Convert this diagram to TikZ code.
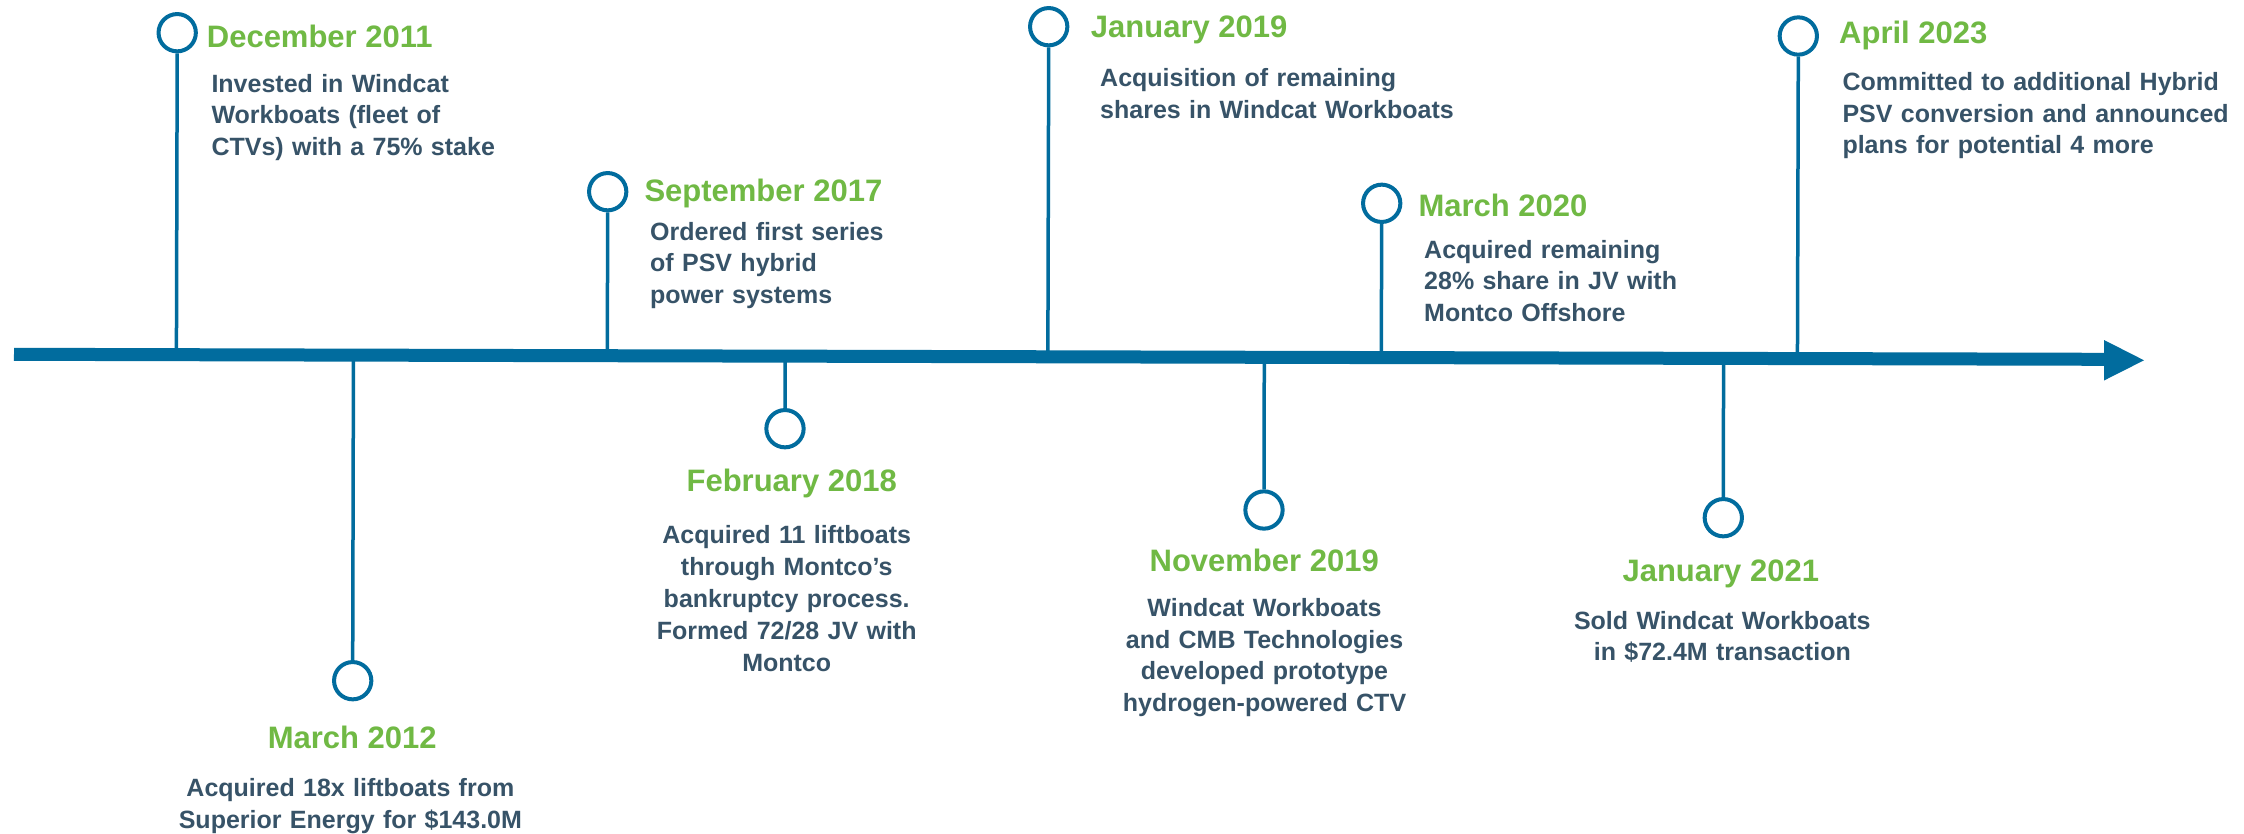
\documentclass[tikz,border=0pt]{standalone}
\usepackage{fontspec}
\setmainfont{Liberation Sans}
\usetikzlibrary{calc}
\definecolor{lineblue}{RGB}{1,108,158}
\definecolor{dategreen}{RGB}{112,185,68}
\definecolor{bodyslate}{RGB}{55,83,104}

\begin{document}
\begin{tikzpicture}[x=1pt,y=-1pt,
  ring/.style={circle,draw=lineblue,line width=4pt,fill=white,inner sep=0pt,minimum size=37.3pt},
  stem/.style={draw=lineblue,line width=3.5pt},
  datelbl/.style={text=dategreen,font=\bfseries\fontsize{31}{36}\selectfont,inner sep=0pt},
  desc/.style={text=bodyslate,font=\bfseries\fontsize{25}{31.6}\selectfont,inner sep=0pt,text width=460pt},
  upper/.style={anchor=base west},
  lowerdesc/.style={anchor=base,align=center},
]
% canvas
\fill[white] (0,0) rectangle (2244,833);
\useasboundingbox (0,0) rectangle (2244,833);

% timeline axis
\coordinate (axL) at (14,354.3);
\coordinate (axR) at (2105,359.3);
\coordinate (headT) at (2104,340);
\coordinate (tip) at (2144,360.3);
\coordinate (headB) at (2104,380.5);

% events above the axis
\node[ring] (c1) at (177.2,32.7) {};
\node[datelbl,upper] (t1) at (206.7,47) {December 2011};
\node[desc,upper,align=left] (d1) at (211.3,92) {Invested in Windcat\\Workboats (fleet of\\CTVs) with a 75\% stake};

\node[ring] (c2) at (607.7,191.7) {};
\node[datelbl,upper] (t2) at (644.3,201.7) {September 2017};
\node[desc,upper,align=left] (d2) at (650,240) {Ordered first series\\of PSV hybrid\\power systems};

\node[ring] (c3) at (1048.7,26.7) {};
\node[datelbl,upper] (t3) at (1090.7,37) {January 2019};
\node[desc,upper,align=left] (d3) at (1100,86.7) {Acquisition of remaining\\shares in Windcat Workboats};

\node[ring] (c4) at (1381.7,203.3) {};
\node[datelbl,upper] (t4) at (1418.3,216.7) {March 2020};
\node[desc,upper,align=left] (d4) at (1424,258.3) {Acquired remaining\\28\% share in JV with\\Montco Offshore};

\node[ring] (c5) at (1798.3,36) {};
\node[datelbl,upper] (t5) at (1839,43.3) {April 2023};
\node[desc,upper,align=left] (d5) at (1842.3,90.7) {Committed to additional Hybrid\\PSV conversion and announced\\plans for potential 4 more};

% events below the axis
\node[ring] (c6) at (352.7,680.7) {};
\node[datelbl,anchor=base] (t6) at (352.3,748.3) {March 2012};
\node[desc,lowerdesc] (d6) at (350.4,796.7) {Acquired 18x liftboats from\\Superior Energy for \$143.0M};

\node[ring] (c7) at (785,428.7) {};
\node[datelbl,anchor=base] (t7) at (791.7,491.7) {February 2018};
\node[desc,lowerdesc,font=\bfseries\fontsize{25}{32}\selectfont] (d7) at (786.7,543.3) {Acquired 11 liftboats\\through Montco’s\\bankruptcy process.\\Formed 72/28 JV with\\Montco};

\node[ring] (c8) at (1264,510) {};
\node[datelbl,anchor=base] (t8) at (1264.2,571.7) {November 2019};
\node[desc,lowerdesc] (d8) at (1264.5,616.7) {Windcat Workboats\\and CMB Technologies\\developed prototype\\hydrogen-powered CTV};

\node[ring] (c9) at (1723.3,517.7) {};
\node[datelbl,anchor=base] (t9) at (1720.8,581.7) {January 2021};
\node[desc,lowerdesc] (d9) at (1722.3,629.3) {Sold Windcat Workboats\\in \$72.4M transaction};

% stems linking each marker to the axis
\foreach \c in {c1,c2,c3,c4,c5}
  \draw[stem] (\c.south) -- ($(axL)!(\c)!(axR)$);
\foreach \c in {c6,c7,c8,c9}
  \draw[stem] ($(axL)!(\c)!(axR)$) -- (\c.north);

% axis and arrow head drawn over the stem ends
\draw[lineblue,line width=13pt] (axL) -- (axR);
\fill[lineblue] (headT) -- (tip) -- (headB) -- cycle;
\end{tikzpicture}
\end{document}
